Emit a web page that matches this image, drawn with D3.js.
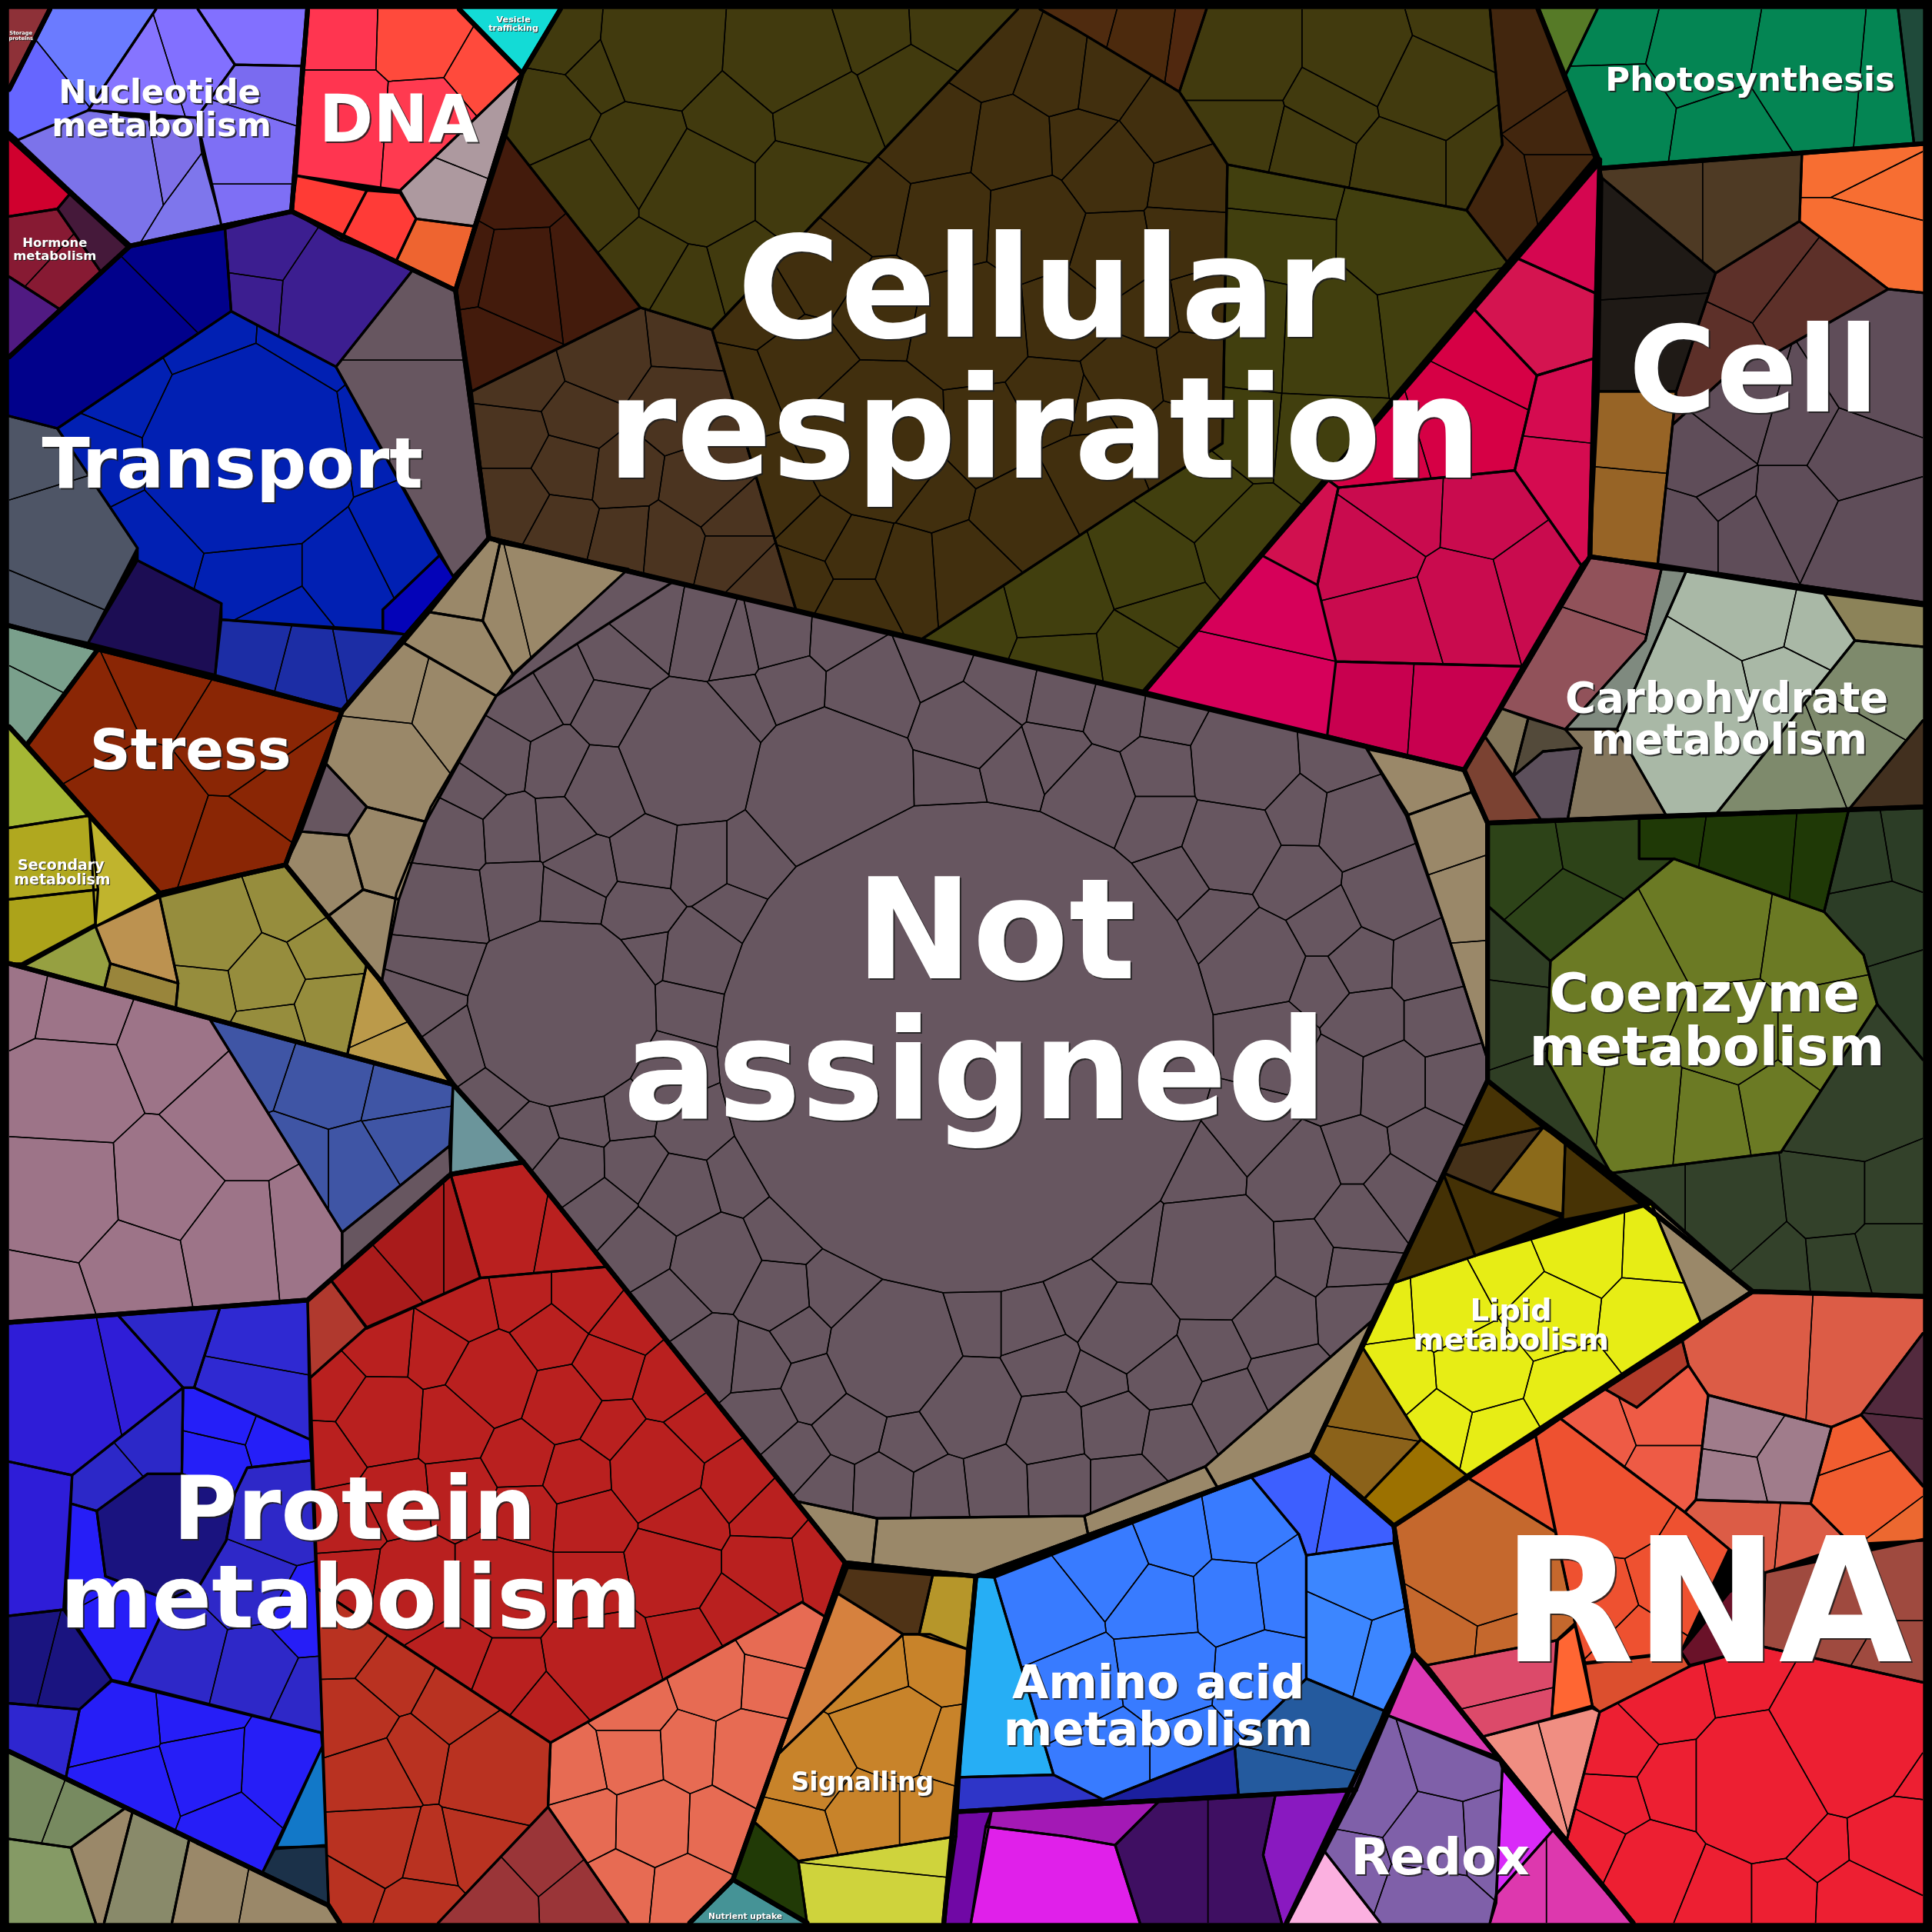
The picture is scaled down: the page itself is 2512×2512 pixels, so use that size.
<!DOCTYPE html>
<html><head><meta charset="utf-8">
<script src="https://cdn.jsdelivr.net/npm/d3@7"></script>
<style>html,body{margin:0;padding:0;background:#000}svg{display:block}</style>
</head><body><svg id="chart" width="2512" height="2512"></svg>
<script>
const MAUVE='#675660', TAN='#9a8869';
const topOutlines=[
[[8,8],[41,8],[8,73]],
[[41,8],[250,8],[237,172],[106,200],[8,112],[8,73]],
[[250,8],[373,8],[424,60],[370,236],[237,172]],
[[373,8],[455,8],[424,60]],
[[455,8],[1248,8],[1298,132],[928,562],[397,437],[370,236],[424,60]],
[[1248,8],[1560,8],[1560,117],[1298,137]],
[[1298,137],[1560,117],[1560,490],[1290,452]],
[[1298,130],[1290,452],[1188,625],[928,562]],
[[1290,452],[1560,490],[1560,655],[1207,668],[1188,625]],
[[1207,668],[1560,655],[1560,1052],[1422,1048],[1207,877]],
[[1207,877],[1422,1048],[1131,1238],[1064,1180]],
[[1422,1048],[1560,1052],[1560,1560],[1325,1560],[1147,1341],[1131,1238]],
[[1147,1341],[1325,1560],[1044,1560]],
[[775,1470],[1100,1452],[1044,1560],[766,1560]],
[[792,1279],[1064,1180],[1131,1238],[1147,1341],[1100,1452],[775,1470]],
[[686,1268],[792,1279],[766,1560],[655,1560],[595,1525]],
[[595,1525],[655,1560],[560,1560]],
[[8,1073],[250,1055],[366,953],[425,943],[686,1268],[595,1525],[560,1560],[276,1560],[267,1546],[8,1421]],
[[8,1421],[267,1546],[276,1560],[8,1560]],
[[8,782],[368,880],[425,943],[366,953],[250,1055],[8,1073]],
[[8,590],[130,725],[232,702],[310,797],[368,880],[8,782]],
[[80,527],[278,577],[232,702],[130,725],[22,605]],
[[8,508],[80,527],[22,605],[8,590]],
[[106,200],[237,172],[370,236],[397,437],[278,577],[80,527],[8,508],[8,290]],
[[8,112],[106,200],[8,290]],
[[397,437],[1188,625],[1207,668],[1207,877],[1064,1180],[792,1279],[686,1268],[425,943],[368,880],[310,797],[232,702],[278,577]]
];
const notAssignedSites=[[783,850,198],[675,640,62],[558,613,53],[457,822,73],[527,507,22],[572,515,22],[595,523,18],[632,515,23],[680,518,18],[643,557,20],[602,574,15],[503,535,18],[496,578,22],[456,557,18],[427,574,22],[403,615,25],[452,621,22],[491,640,30],[384,643,20],[416,674,22],[455,671,20],[367,677,25],[473,705,20],[528,695,25],[566,699,25],[609,699,20],[418,724,20],[361,732,27],[462,727,20],[522,739,22],[593,741,17],[569,774,28],[527,769,13],[356,785,18],[347,813,18],[371,847,18],[559,819,18],[545,870,25],[403,893,14],[473,907,16],[430,921,15],[511,902,15],[562,910,22],[516,948,18],[464,949,20],[488,983,20],[551,969,25],[601,955,17],[518,1011,22],[581,1024,30],[546,1058,17],[637,999,20],[632,1051,22],[683,1047,25],[575,1101,22],[613,1105,18],[650,1080,15],[663,1126,17],[728,1094,52],[788,1075,22],[836,1075,21],[785,1139,36],[691,1157,20],[741,1169,18],[617,1150,16],[648,1185,17],[671,1206,16],[718,1208,20],[763,1211,20],[808,1206,22],[852,1161,25],[846,1105,20],[860,1204,22],[910,1204,22],[905,1157,25],[880,1056,22],[915,1079,33],[893,1121,17],[943,1115,25],[919,1012,22],[985,1022,48],[977,948,22],[984,1093,20],[1032,1069,27],[1058,1019,20],[1100,1065,20],[1098,1026,15],[1101,990,25],[1053,953,30],[1015,917,26],[1101,936,20],[1134,965,23],[1156,929,22],[1129,878,27],[1180,878,23],[1168,830,22],[1109,830,24],[1084,876,25],[1032,848,28],[950,1165,20],[998,1140,20],[1043,1118,18],[760,537,18],[810,557,20],[864,568,18],[905,579,18],[947,585,15],[1009,618,38],[1087,613,22],[786,589,30],[856,615,20],[705,560,30],[772,638,18],[823,626,20],[886,643,30],[940,624,22],[940,665,18],[999,685,33],[1053,660,17],[1106,668,30],[1052,716,22],[956,713,13],[991,749,17],[1128,724,28],[1074,750,20],[1020,780,33],[1103,783,20],[1157,785,20],[1074,800,17]];
const notAssignedRegions=[
[MAUVE,[[547,472],[1108,606],[1142,660],[1172,750],[1207,860],[1207,877],[1113,1072],[978,1190],[880,1230],[712,1232],[646,1218],[425,943],[368,880],[310,797],[322,725],[350,655],[403,565]],notAssignedSites],
[MAUVE,[[510,462],[547,472],[403,565],[415,548]],[],1],
[TAN,[[397,437],[406,441],[392,504],[349,497]],[]],
[TAN,[[406,441],[510,462],[417,548],[392,504]],[[408,490,10],[450,480,30]]],
[TAN,[[349,497],[392,504],[417,548],[403,565],[328,522]],[]],
[TAN,[[328,522],[403,565],[377,611],[346,667],[298,655],[265,620],[278,577]],[[312,555,20],[370,570,20],[305,620,28]]],
[TAN,[[298,655],[346,667],[324,730],[295,722],[283,678]],[]],
[MAUVE,[[245,675],[265,620],[298,655],[283,678]],[]],
[TAN,[[232,702],[245,675],[283,678],[295,722],[266,744]],[]],
[TAN,[[266,744],[295,722],[324,730],[310,797]],[]],
[TAN,[[1109,608],[1189,625],[1194,643],[1141,662]],[]],
[TAN,[[1141,662],[1194,643],[1207,668],[1207,860],[1172,750]],[[1172,675,16],[1190,728,12],[1195,800,10]]],
[TAN,[[1113,1072],[1064,1180],[988,1207],[978,1190]],[]],
[TAN,[[978,1190],[988,1207],[883,1245],[880,1230]],[]],
[TAN,[[880,1230],[883,1245],[792,1279],[708,1270],[712,1232]],[]],
[TAN,[[646,1218],[712,1232],[708,1270],[686,1268]],[]]
];
const respirationRegions=[
['#413a0e',[[455,8],[826,8],[578,268],[520,250],[411,111],[424,59]],[[460,35,15],[450,92,24],[485,60,15],[533,41,40],[640,48,38],[519,124,32],[594,102,22],[713,25,17],[763,22,15],[737,67,20],[665,95,27],[477,153,30],[568,153,40],[651,153,32],[533,217,22],[555,230,22],[603,217,20]]],
['#431b0c',[[411,111],[520,250],[383,318],[370,236]],[[419,153,22],[473,217,22],[422,223,28],[395,285,16],[384,215,12]]],
['#4b3420',[[520,250],[578,268],[646,495],[397,437],[383,318]],[[555,280,18],[492,287,28],[425,306,18],[470,341,17],[419,357,16],[460,379,20],[419,408,22],[454,427,20],[508,440,18],[543,443,20],[505,385,16],[574,395,25],[552,328,28],[594,417,16],[594,455,18],[610,471,13]]],
['#412f0e',[[826,8],[844,8],[874,25],[957,75],[996,134],[992,360],[917,408],[748,519],[646,495],[578,268]],[[801,38,25],[861,60,22],[756,111,30],[823,121,25],[877,118,18],[900,140,28],[893,64,20],[947,102,22],[963,150,20],[960,195,24],[903,205,28],[975,245,18],[934,252,15],[912,310,26],[880,330,16],[970,302,25],[954,357,22],[708,169,22],[769,181,32],[839,185,35],[864,255,28],[788,262,40],[713,248,22],[670,220,22],[617,252,17],[650,296,25],[605,314,14],[710,360,55],[800,357,30],[858,325,22],[632,400,22],[664,433,17],[692,449,17],[652,468,14],[692,490,15],[740,465,20],[782,462,25],[829,414,30],[759,398,18],[885,385,28]]],
['#4d2a0e',[[844,8],[979,8],[957,75],[874,25]],[[878,16,11,'#4f2b0f'],[930,30,17,'#4c2a0d'],[965,35,10,'#50280f']]],
['#413a0e',[[979,8],[1209,8],[1219,118],[1190,171],[996,134],[957,75]],[[1008,45,33],[1103,45,30],[1183,22,14],[1081,87,16],[1160,73,30],[1008,108,20],[1063,121,20],[1138,134,25],[1202,134,14]]],
['#42260e',[[1209,8],[1248,8],[1296,126],[1223,213],[1190,171],[1219,118]],[[1237,60,24],[1267,105,14],[1216,160,20],[1267,150,18]]],
['#413f0e',[[996,134],[1190,171],[1223,213],[928,562],[748,519],[917,408],[992,360]],[[1036,162,16],[1033,190,20],[1145,191,38],[1017,271,30],[1075,274,36],[1161,264,28],[1008,354,16],[1071,360,25],[973,398,25],[1012,437,25],[930,460,26],[784,504,17],[861,484,28],[864,537,15],[922,529,17],[941,497,13]]]
];
const magentaRegions=[
['#d50650',[[1298,130],[1296,239],[1229,209]],[]],
['#d41450',[[1229,209],[1296,239],[1294,291],[1247,305],[1194,249]],[]],
['#d60045',[[1194,249],[1247,305],[1229,382],[1086,396],[1078,390]],[[1215,280,18],[1180,350,28],[1130,365,22]]],
['#d50b50',[[1247,305],[1294,291],[1290,452],[1283,459],[1229,382]],[[1267,322,18],[1259,398,28]]],
['#c90b4e',[[1086,396],[1229,382],[1283,459],[1235,541],[1084,537],[1069,475]],[[1112,452,22],[1141,411,20],[1205,414,28],[1189,485,24],[1245,470,22],[1125,504,26]]],
['#d60059',[[1024,451],[1069,475],[1084,537],[972,512]],[],1],
['#d6005a',[[972,512],[1084,537],[1077,597],[928,562]],[],1],
['#d1104f',[[1078,390],[1086,396],[1069,475],[1024,451]],[]],
['#c8004f',[[1084,537],[1235,541],[1188,625],[1077,597]],[[1110,570,25],[1180,575,25]]]
];
const nucleotideRegions=[
['#6a66ff',[[8,73],[41,8],[127,8],[72,90],[15,114],[8,108]],[[25,75,25,'#6666ff'],[75,35,30,'#6b7bff']]],
['#8674ff',[[127,8],[161,8],[191,53],[160,96],[72,90]],[[112,60,25,'#8674ff'],[160,45,22,'#8270ff']]],
['#8270ff',[[161,8],[250,8],[245,54],[191,53]],[]],
['#7e6ff5',[[191,53],[245,54],[237,172],[180,183],[160,96]],[[218,78,18,'#7a6bf0'],[205,120,28],[205,168,15]]],
['#7c73ea',[[15,114],[72,90],[121,98],[133,167],[114,198],[106,200]],[],1],
['#7e70e8',[[121,98],[160,96],[164,125],[133,167]],[],1],
['#7e76ec',[[164,125],[180,183],[114,198],[133,167]],[],1]
];
const dnaRegions=[
['#ff3a50',[[250,8],[373,8],[424,60],[325,155],[241,143]],[[275,28,18,'#ff3550'],[340,30,22,'#ff4a3c'],[275,100,36,'#ff3550'],[345,105,30,'#ff3a50'],[395,62,12,'#ff4a3c']]],
['#ff3b35',[[241,143],[298,155],[277,195],[237,172]],[]],
['#ff3b37',[[298,155],[325,157],[338,178],[322,212],[277,195]],[]],
['#ee6430',[[338,178],[385,184],[370,236],[322,212]],[]],
['#ad999f',[[424,60],[385,184],[338,178],[325,155]],[[385,110,18],[365,160,12]]]
];
const singleRegions=[
['#8e3138',[[8,8],[41,8],[8,73]],[]],
['#13dbd6',[[373,8],[455,8],[424,60]],[]],
['#459396',[[595,1525],[655,1560],[560,1560]],[]],
['#7aa08c',[[8,508],[80,527],[22,605],[8,590]],[[45,525,20],[20,575,12]]],
['#8a2605',[[80,527],[278,577],[232,702],[130,725],[22,605]],[[60,585,28],[135,550,20],[200,590,35],[105,665,42],[235,640,18],[195,695,18]]]
];
const transportRegions=[
['#01018b',[[8,290],[106,200],[183,186],[188,253],[47,348],[8,338]],[[155,215,22],[90,280,50]]],
['#3c1e90',[[183,186],[237,172],[335,220],[273,298],[188,253]],[[210,205,22],[205,240,18],[270,245,38]]],
[MAUVE,[[335,220],[370,236],[397,437],[368,468],[273,298]],[[330,245,15],[330,360,50]]],
['#0120b3',[[47,348],[188,253],[273,298],[357,451],[311,495],[311,512],[180,503],[180,490],[112,455],[112,445]],[[200,365,80],[105,320,25],[170,285,20],[245,290,20],[295,350,15],[85,370,20],[120,440,18],[210,465,18],[280,465,16],[330,440,20],[230,505,6]]],
['#0403b8',[[311,495],[357,451],[369,469],[329,515],[311,512]],[]],
['#1c2da5',[[180,503],[329,515],[278,577],[175,548]],[[205,525,18],[255,538,15],[295,530,15]]],
['#4e5566',[[8,338],[47,348],[112,445],[72,522],[8,508]],[[30,370,25],[50,435,38],[25,495,15]]],
['#1c0d54',[[112,455],[180,490],[175,548],[72,522]],[]]
];
const hormoneRegions=[
['#d0002e',[[8,113],[57,158],[47,170],[8,176]],[]],
['#45193a',[[57,158],[105,202],[83,222],[47,170]],[]],
['#871a33',[[8,176],[47,170],[83,222],[50,252],[8,225]],[[28,200,15],[55,225,18]]],
['#501a82',[[8,225],[50,252],[8,290]],[]]
];
const secondaryRegions=[
['#a5b735',[[8,590],[73,662],[8,672]],[]],
['#b0a81f',[[8,672],[73,662],[80,722],[8,730]],[]],
['#aca31a',[[8,730],[80,722],[78,750],[18,782],[8,782]],[]],
['#c0b42d',[[73,662],[130,725],[78,752]],[]],
['#96a041',[[18,785],[78,752],[90,782],[85,803]],[]],
['#bc9250',[[78,752],[130,728],[145,798],[90,782]],[]],
['#99853b',[[85,803],[90,782],[145,798],[143,819]],[]],
['#968d3d',[[130,728],[232,702],[298,782],[282,857],[143,819],[145,798]],[[170,755,28],[240,730,20],[265,770,14],[215,795,20],[165,805,14],[220,835,14],[270,820,20]]],
['#bb9a4a',[[298,782],[368,880],[282,857]],[[305,815,10],[325,860,14]]]
];
const mauveGroupRegions=[
['#9d7488',[[8,782],[170,826],[278,1000],[278,1030],[250,1055],[8,1073]],[[20,812,13],[60,820,25],[55,885,40],[140,850,25],[190,905,35],[130,965,35],[50,970,45],[190,1010,33],[110,1025,30],[245,1005,22],[35,1050,18]]],
['#3f55a5',[[170,826],[368,880],[365,930],[278,1000]],[[205,855,20],[265,875,22],[330,890,15],[240,950,25],[335,920,18],[285,950,15]]],
[MAUVE,[[278,1000],[365,930],[366,953],[278,1030]],[]],
['#6b959b',[[368,880],[425,943],[366,953]],[]]
];
const redBigSites=[[425,1053,17],[473,1053,20],[504,1078,15],[375,1063,20],[447,1085,22],[355,1095,20],[310,1091,22],[400,1120,32],[492,1110,22],[457,1139,28],[545,1126,22],[495,1161,20],[309,1152,32],[368,1156,25],[269,1180,20],[272,1127,20],[423,1182,22],[470,1196,24],[532,1193,35],[567,1158,22],[597,1203,22],[556,1235,25],[622,1228,18],[664,1265,15],[620,1273,25],[546,1273,32],[597,1305,20],[556,1330,18],[490,1349,38],[480,1234,25],[425,1230,22],[374,1210,20],[320,1215,22],[280,1235,25],[480,1285,25],[410,1285,35],[335,1285,28],[283,1277,20],[372,1347,17],[410,1362,20],[444,1390,20]];
const proteinRegions=[
['#2f1dd7',[[8,1073],[96,1067],[149,1126],[59,1197],[8,1186]],[[45,1125,40],[115,1110,18]]],
['#2d28ca',[[96,1067],[179,1061],[158,1126],[149,1126]],[]],
['#2f29d2',[[179,1061],[250,1055],[252,1168],[158,1126]],[[215,1080,22],[205,1135,20]]],
['#251ff8',[[149,1126],[158,1126],[252,1168],[253,1185],[201,1191],[191,1212],[148,1196]],[[180,1150,14],[228,1168,12],[172,1185,15]]],
['#2c28c8',[[59,1197],[149,1126],[148,1196],[120,1196],[79,1226],[58,1220]],[[120,1165,17],[85,1195,14]]],
['#1a137f',[[120,1196],[148,1196],[191,1212],[184,1250],[162,1287],[137,1298],[86,1279],[79,1226]],[]],
['#2e1dd8',[[8,1186],[59,1197],[52,1306],[8,1311]],[]],
['#261ef7',[[58,1220],[79,1226],[86,1279],[137,1298],[105,1366],[91,1363],[54,1306]],[[70,1260,15],[105,1325,18]]],
['#2e28c8',[[201,1191],[253,1185],[262,1406],[105,1366],[137,1298],[162,1287],[184,1250],[191,1212]],[[222,1225,24],[197,1290,22],[150,1338,28],[207,1352,26],[250,1372,12],[245,1316,15,'#261ef7']]],
['#1a1480',[[8,1311],[52,1306],[91,1363],[65,1387],[8,1382]],[[20,1345,16],[60,1355,18]]],
['#2e26d0',[[8,1382],[65,1387],[54,1442],[8,1421]],[]],
['#261ef7',[[91,1364],[261,1406],[262,1417],[213,1520],[54,1442],[65,1387]],[[92,1398,25],[160,1392,15],[105,1453,28],[168,1434,25],[229,1437,28],[188,1484,20]]],
['#1278c8',[[262,1417],[265,1497],[224,1500]],[]],
['#1b3149',[[224,1499],[265,1498],[267,1545],[213,1520]],[]],
['#a91b1b',[[269,1039],[366,953],[390,1037],[298,1078]],[[300,1045,18],[340,1010,22],[372,1010,14]]],
['#b9201f',[[366,953],[425,943],[492,1028],[390,1037]],[[410,990,25],[465,1000,18]]],
['#b0392e',[[250,1055],[269,1039],[298,1077],[252,1118]],[]],
['#b9201f',[[298,1077],[390,1037],[492,1028],[686,1268],[670,1312],[651,1300],[447,1414],[258,1289],[252,1118]],redBigSites],
['#b93221',[[447,1414],[258,1289],[267,1546],[276,1560],[356,1560],[445,1466]],[[285,1332,20],[318,1357,20],[370,1385,20],[405,1436,38],[287,1393,22],[338,1424,15],[303,1443,26],[306,1497,30],[344,1507,18],[392,1497,22],[338,1548,22],[287,1530,17]]],
['#9a3538',[[356,1560],[445,1466],[510,1560]],[[443,1500,18],[398,1542,18],[475,1539,14]]],
['#e76b53',[[447,1414],[651,1300],[670,1312],[613,1475],[595,1525],[560,1560],[510,1560],[445,1466]],[[632,1327,17],[578,1362,20],[623,1365,13],[513,1385,20],[466,1435,22],[513,1426,23],[559,1423,20],[610,1426,30],[478,1477,20],[530,1478,28],[581,1480,20],[505,1530,18],[555,1535,18]]]
];
const bottomLeftRegions=[
['#778a60',[[8,1421],[102,1467],[58,1499],[8,1492]],[[25,1460,15],[65,1475,16]]],
['#859a65',[[8,1492],[58,1499],[78,1560],[8,1560]],[]],
[TAN,[[58,1499],[102,1467],[108,1470],[85,1560],[78,1560]],[]],
['#898a6a',[[108,1470],[154,1492],[140,1560],[85,1560]],[]],
[TAN,[[154,1492],[267,1546],[276,1560],[140,1560]],[[170,1530,20],[225,1540,16]]]
];
const signallingRegions=[
['#4f3316',[[688,1272],[757,1278],[746,1326],[733,1326],[680,1293]],[]],
['#b6962a',[[757,1278],[792,1279],[785,1338],[746,1326]],[]],
['#d6813e',[[680,1293],[733,1326],[632,1423]],[]],
['#c8832a',[[733,1326],[755,1326],[785,1338],[776,1490],[648,1510],[612,1478],[632,1423]],[[708,1356,20],[760,1350,15],[725,1405,30],[770,1420,15],[660,1440,22],[650,1485,14],[700,1470,22],[755,1470,14]]],
['#213a06',[[612,1478],[648,1510],[655,1560],[595,1525]],[]],
['#cfd33c',[[648,1510],[776,1490],[766,1560],[655,1560]],[[715,1495,15],[710,1545,22]]]
];
const aminoRegions=[
['#3d5fff',[[1015,1198],[1062,1180],[1131,1238],[1131,1252],[1060,1262],[1054,1245]],[[1045,1220,20],[1100,1230,14]]],
['#3c86ff',[[1060,1262],[1131,1252],[1147,1341],[1123,1388],[1060,1362]],[[1105,1285,20],[1085,1330,22],[1125,1340,15]]],
['#387bff',[[807,1280],[1015,1198],[1054,1245],[1060,1262],[1060,1362],[1002,1418],[895,1460],[855,1440]],[[850,1310,22],[900,1270,20],[955,1248,18],[1005,1240,18],[940,1300,20],[1000,1295,20],[1040,1290,14],[875,1370,25],[945,1360,28],[1025,1365,28],[900,1420,22],[965,1420,20]]],
['#26aef5',[[792,1279],[807,1280],[855,1440],[777,1442]],[]],
['#245a9e',[[1002,1418],[1060,1362],[1123,1388],[1100,1452],[1005,1457]],[[1060,1400,22],[1050,1446,10]]],
['#2e35c8',[[777,1442],[855,1440],[895,1460],[777,1470]],[]],
['#1b1f9e',[[895,1460],[1002,1418],[1005,1457],[880,1463]],[]]
];
const purpleRegions=[
['#7008a5',[[775,1470],[805,1468],[788,1560],[766,1560]],[]],
['#a319b5',[[805,1468],[940,1462],[905,1497],[865,1490],[800,1482]],[]],
['#e020ea',[[800,1482],[865,1490],[905,1497],[925,1560],[788,1560]],[]],
['#3f0f62',[[940,1462],[1035,1456],[1025,1505],[1040,1560],[925,1560],[905,1497]],[[950,1510,25],[1005,1510,18]]],
['#8919c0',[[1035,1456],[1100,1452],[1044,1560],[1040,1560],[1025,1505]],[]]
];
const redoxRegions=[
['#dc38b4',[[1147,1341],[1214,1425],[1124,1391]],[]],
['#7f60a9',[[1124,1391],[1217,1429],[1219,1435],[1214,1544],[1209,1560],[1120,1560],[1074,1501]],[[1107,1448,28],[1180,1426,22],[1165,1492,24],[1200,1490,12],[1158,1537,18],[1095,1515,6]]],
['#fbb0e0',[[1074,1501],[1120,1560],[1044,1560]],[]],
['#d92af8',[[1219,1435],[1260,1485],[1214,1537]],[]],
['#dd38ae',[[1260,1485],[1325,1560],[1209,1560],[1214,1537]],[[1232,1535,13],[1280,1535,17]]]
];
const rnaRegions=[
['#dc5c46',[[1422,1048],[1560,1052],[1560,1082],[1510,1148],[1486,1158],[1386,1132],[1370,1108],[1365,1088]],[[1420,1095,35],[1510,1100,25]]],
['#532a3e',[[1560,1082],[1560,1205],[1510,1148]],[[1545,1125,10],[1540,1175,12]]],
['#b13b2a',[[1365,1088],[1370,1108],[1328,1142],[1302,1127]],[]],
['#ee5b45',[[1302,1127],[1328,1142],[1370,1108],[1386,1132],[1376,1217],[1367,1227],[1328,1198],[1266,1151]],[[1295,1165,18],[1350,1145,22],[1350,1195,14]]],
['#a07c8b',[[1386,1132],[1486,1158],[1469,1220],[1376,1217]],[[1410,1155,20],[1458,1187,22],[1403,1200,15]]],
['#f15d30',[[1486,1158],[1510,1148],[1560,1206],[1560,1250],[1502,1253],[1469,1220]],[[1495,1172,12],[1510,1215,25],[1540,1255,14,'#ec6830']]],
['#dc5c46',[[1367,1227],[1376,1217],[1469,1220],[1502,1253],[1432,1276],[1403,1257]],[[1415,1240,18],[1470,1245,18]]],
['#ee5130',[[1266,1151],[1367,1227],[1403,1257],[1364,1340],[1286,1349],[1278,1317],[1246,1165]],[[1310,1215,38],[1300,1300,22],[1350,1285,18],[1375,1255,10],[1325,1325,12]]],
['#ee5130',[[1191,1199],[1246,1165],[1262,1243]],[]],
['#c5682d',[[1191,1199],[1262,1243],[1278,1317],[1263,1331],[1158,1351],[1147,1340],[1131,1238]],[[1205,1270,42],[1170,1330,15],[1225,1335,15]]],
['#dc4a6a',[[1158,1351],[1263,1331],[1259,1394],[1203,1409]],[[1215,1355,18],[1225,1398,12]]],
['#ff6633',[[1264,1331],[1278,1319],[1292,1384],[1259,1393]],[]],
['#dc4f2e',[[1286,1350],[1364,1341],[1371,1352],[1298,1389],[1292,1384]],[]],
['#6a1229',[[1364,1340],[1403,1292],[1432,1276],[1430,1336],[1371,1351]],[]],
['#9f4a3f',[[1432,1276],[1560,1249],[1560,1365],[1430,1336]],[[1480,1305,35],[1540,1290,14],[1540,1340,14]]],
['#ed1f32',[[1298,1389],[1371,1352],[1430,1336],[1560,1365],[1560,1560],[1325,1560],[1271,1494]],[[1352,1378,30],[1416,1365,22],[1496,1410,62],[1429,1448,58],[1314,1416,22],[1311,1464,20],[1362,1448,28],[1295,1496,20],[1343,1518,35],[1390,1537,28],[1443,1537,17],[1477,1493,20],[1510,1540,25],[1534,1490,33],[1540,1440,18]]],
['#f08e82',[[1203,1409],[1292,1386],[1298,1389],[1271,1494]],[[1235,1430,20],[1272,1420,16]]]
];
const lipidRegions=[
['#473305',[[1207,877],[1252,915],[1183,930]],[]],
['#46321a',[[1183,930],[1252,915],[1210,968],[1172,952]],[]],
['#8b6a1a',[[1252,915],[1270,927],[1268,985],[1210,968]],[]],
['#473305',[[1270,927],[1334,977],[1268,990]],[]],
['#443105',[[1171,952],[1210,968],[1268,988],[1197,1019]],[]],
['#443105',[[1171,952],[1197,1019],[1131,1041]],[]],
['#e7ed15',[[1131,1041],[1197,1019],[1340,977],[1380,1073],[1190,1197],[1153,1168],[1106,1094]],[[1128,1065,13],[1175,1062,26],[1225,1035,13],[1280,1012,22],[1350,1015,15],[1255,1065,22],[1345,1075,30],[1135,1115,20],[1200,1110,28],[1170,1155,12],[1215,1165,15],[1275,1130,20]]],
[TAN,[[1340,977],[1422,1048],[1380,1073]],[]],
['#8b621a',[[1106,1094],[1153,1168],[1107,1216],[1064,1179]],[[1110,1130,20],[1100,1190,14]]],
['#9c7100',[[1153,1168],[1190,1197],[1131,1238],[1107,1216]],[]]
];
const photoRegions=[
['#567a27',[[1248,8],[1296,8],[1270,62]],[]],
['#048553',[[1296,8],[1540,8],[1553,118],[1298,137],[1270,62]],[[1310,28,14],[1312,92,33],[1380,45,32],[1400,105,25],[1470,60,40],[1525,65,18]]],
['#1f4a3a',[[1540,8],[1560,8],[1560,117],[1553,118]],[]]
];
const cellRegions=[
['#4e3a24',[[1298,137],[1462,125],[1460,180],[1392,222],[1300,145]],[[1345,165,18],[1420,165,22]]],
['#f76e32',[[1462,125],[1560,117],[1560,238],[1532,235],[1460,180]],[[1510,135,10],[1520,155,8],[1510,195,25]]],
['#1f1a16',[[1300,145],[1392,222],[1360,318],[1297,318]],[[1340,200,28],[1345,280,25]]],
['#5d3029',[[1392,222],[1460,180],[1532,235],[1435,290],[1420,288],[1357,345],[1360,318]],[[1425,215,17],[1470,250,22],[1385,300,28]]],
['#5f4d59',[[1357,345],[1420,288],[1435,290],[1532,235],[1560,238],[1560,490],[1345,458]],[[1525,300,30],[1500,370,20],[1420,335,18],[1385,380,15],[1370,430,18],[1415,430,14],[1455,410,18],[1520,440,30],[1455,345,20],[1398,405,8]]],
['#976426',[[1297,318],[1360,318],[1345,458],[1290,452]],[[1325,345,22],[1318,420,25]]]
];
const carbRegions=[
['#91525a',[[1290,452],[1348,462],[1335,520],[1270,592],[1218,575]],[[1305,475,16],[1285,535,25]]],
['#7f8a7f',[[1348,462],[1368,464],[1312,592],[1270,592],[1335,520]],[]],
['#a9b8a6',[[1368,464],[1480,482],[1505,520],[1393,660],[1352,662],[1312,592]],[[1425,500,22],[1470,510,10],[1380,575,40],[1445,560,24]]],
['#8c8359',[[1480,482],[1560,492],[1560,525],[1505,520]],[]],
['#7e8a6c',[[1505,520],[1560,525],[1560,585],[1500,657],[1393,660]],[[1530,560,20],[1455,625,20],[1505,605,14]]],
['#42301f',[[1560,585],[1560,655],[1500,657]],[]],
['#7b4232',[[1205,598],[1250,665],[1207,668],[1188,625]],[]],
['#827559',[[1218,575],[1240,583],[1228,630],[1205,598]],[]],
['#534a3a',[[1240,583],[1270,592],[1283,607],[1252,610],[1228,630]],[]],
['#5c4f5b',[[1228,630],[1252,610],[1283,607],[1272,665],[1250,665]],[]],
['#85775e',[[1283,607],[1270,592],[1312,592],[1352,662],[1272,665]],[]]
];
const coenzymeRegions=[
['#6b7a24',[[1358,697],[1480,740],[1512,775],[1523,815],[1445,935],[1307,952],[1255,860],[1258,780]],[[1310,800,45],[1395,755,30],[1465,765,22],[1330,900,30],[1385,905,22],[1440,895,18],[1480,840,30],[1405,840,30],[1285,895,10]]],
['#2d4318',[[1207,668],[1330,662],[1330,697],[1358,697],[1258,780],[1207,735]],[[1235,695,22],[1295,685,20],[1270,735,14]]],
['#1f3906',[[1330,662],[1500,657],[1480,740],[1358,697],[1330,697]],[[1352,680,15],[1420,690,30],[1478,695,14]]],
['#2c3d26',[[1500,657],[1560,655],[1560,860],[1523,815],[1512,775],[1480,740]],[[1515,695,15],[1545,690,12],[1525,745,20],[1545,810,16]]],
['#2f3e24',[[1207,735],[1258,780],[1255,860],[1307,952],[1340,975],[1207,877]],[[1235,770,22],[1228,825,20],[1250,890,18]]],
['#33412a',[[1307,952],[1445,935],[1523,815],[1560,860],[1560,1052],[1422,1048],[1340,975]],[[1400,985,33],[1352,985,16],[1490,975,22],[1530,1015,20],[1495,1025,16],[1530,975,16],[1500,900,30],[1440,1030,14]]]
];
const allRegions=[...singleRegions,...nucleotideRegions,...dnaRegions,...respirationRegions,...magentaRegions,...transportRegions,...hormoneRegions,...secondaryRegions,...mauveGroupRegions,...proteinRegions,...bottomLeftRegions,...signallingRegions,...aminoRegions,...purpleRegions,...redoxRegions,...rnaRegions,...lipidRegions,...photoRegions,...cellRegions,...carbRegions,...coenzymeRegions,...notAssignedRegions];
// labels: text lines, centre x per line, first baseline, font size in px
const labelLines=[['Storage','proteins'],['Nucleotide','metabolism'],['DNA'],['Vesicle','trafficking'],['Hormone','metabolism'],['Cellular','respiration'],['Photosynthesis'],['Cell'],['Carbohydrate','metabolism'],['Coenzyme','metabolism'],['Transport'],['Stress'],['Secondary','metabolism'],['Not','assigned'],['Lipid','metabolism'],['Protein','metabolism'],['RNA'],['Amino acid','metabolism'],['Signalling'],['Redox'],['Nutrient uptake']];
const labelX=[[17.5,17.5],[130,131.5],[324],[417,417],[45,45],[845,847.5],[1420],[1423],[1401,1403],[1383,1385],[189],[155],[50,51],[808,791.5],[1226,1226],[288,285],[1385],[940,940],[700],[1168.5],[605]];
const labelY=[28.5,84,115,18.5,201,274,74,334.5,578,820.5,396,624,706,794,1071.5,1249,1348,1378,1453,1520.5,1557];
const labelPx=[6.7,43.3,85,11.2,16.4,183,43.5,155,54.5,70,91.4,73.5,19,182,38.6,114.5,224,61,33,66.5,10.7];

const x=d3.scaleLinear().domain([8,1560]).range([12,2500]);
const y=d3.scaleLinear().domain([8,1560]).range([12,2500]);
const svg=d3.select('#chart');
svg.append('rect').attr('width',2512).attr('height',2512).attr('fill','#000');

function clip(poly,ax,ay,c){ // keep ax*X+ay*Y<=c
  const out=[];
  for(let i=0;i<poly.length;i++){
    const p=poly[i],q=poly[(i+1)%poly.length];
    const dp=ax*p[0]+ay*p[1]-c,dq=ax*q[0]+ay*q[1]-c;
    if(dp<=0)out.push(p);
    if((dp<0&&dq>0)||(dp>0&&dq<0)){const t=dp/(dp-dq);out.push([p[0]+t*(q[0]-p[0]),p[1]+t*(q[1]-p[1])]);}
  }
  return out;
}
function powerCells(outline,sites){
  return sites.map((a,i)=>{
    let cell=outline;
    sites.forEach((b,j)=>{
      if(i===j||cell.length<3)return;
      const ax=2*(b[0]-a[0]),ay=2*(b[1]-a[1]);
      const c=b[0]*b[0]+b[1]*b[1]-a[0]*a[0]-a[1]*a[1]-b[2]*b[2]+a[2]*a[2];
      cell=clip(cell,ax,ay,c);
    });
    return {cell,fill:a[3]};
  }).filter(d=>d.cell.length>2);
}
const area=d3.line().x(d=>x(d[0])).y(d=>y(d[1])).curve(d3.curveLinearClosed);
const onFrame=(a,b)=>(a[0]<=8.5&&b[0]<=8.5)||(a[0]>=1559.5&&b[0]>=1559.5)||(a[1]<=8.5&&b[1]<=8.5)||(a[1]>=1559.5&&b[1]>=1559.5);
function edges(poly){
  let s='';
  poly.forEach((a,i)=>{const b=poly[(i+1)%poly.length];
    if(!onFrame(a,b))s+=`M${x(a[0])},${y(a[1])}L${x(b[0])},${y(b[1])}`;});
  return s;
}
const leaves=[];
allRegions.forEach(r=>{
  const cells=r[2].length?powerCells(r[1],r[2]):[{cell:r[1]}];
  cells.forEach(c=>leaves.push({cell:c.cell,fill:c.fill||r[0]}));
});
svg.append('g').attr('stroke-linejoin','round').selectAll('path').data(leaves).join('path')
  .attr('d',d=>area(d.cell)).attr('fill',d=>d.fill).attr('stroke',d=>d.fill).attr('stroke-width',0.6);
svg.append('g').selectAll('path').data(leaves).join('path')
  .attr('d',d=>edges(d.cell)).attr('fill','none').attr('stroke','#000').attr('stroke-width',1.5);
svg.append('g').selectAll('path').data(allRegions.filter(r=>!r[3])).join('path')
  .attr('d',r=>edges(r[1])).attr('fill','none').attr('stroke','#000').attr('stroke-width',3.2).attr('stroke-linecap','round');
svg.append('g').selectAll('path').data(topOutlines).join('path')
  .attr('d',edges).attr('fill','none').attr('stroke','#000').attr('stroke-width',6.2).attr('stroke-linecap','round');
const labels=svg.append('g').attr('font-family','"DejaVu Sans"').attr('font-weight',700).attr('fill','#fff').attr('text-anchor','middle');
labelLines.forEach((lines,i)=>{
  const px=labelPx[i],sh=px<30?1:2;
  const t=labels.append('text').attr('font-size',px).style('filter',`drop-shadow(${sh}px ${sh}px 0.6px rgba(30,30,30,.85))`);
  lines.forEach((l,k)=>t.append('tspan').attr('x',x(labelX[i][k])).attr('y',y(labelY[i])+k*px).text(l));
});
</script></body></html>
